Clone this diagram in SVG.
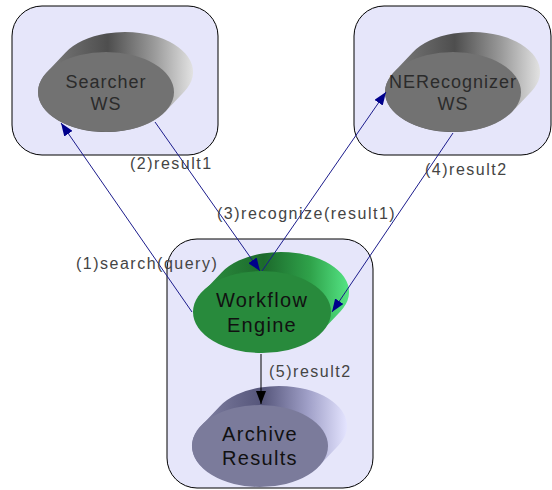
<svg xmlns="http://www.w3.org/2000/svg" xmlns:xlink="http://www.w3.org/1999/xlink" width="552" height="490" viewBox="0 0 552 490">
  <style>
    .box { fill: #e6e6fa; stroke: #000; stroke-width: 1; }
    .lbl { font-family: "Liberation Sans", Arial, sans-serif; font-size: 16px; letter-spacing: 1.5px; fill: #444; }
    .ws { font-family: "Liberation Sans", Arial, sans-serif; font-size: 18px; letter-spacing: 1px; fill: #2b2b2b; text-anchor: middle; }
    .big { font-family: "Liberation Sans", Arial, sans-serif; font-size: 20px; letter-spacing: 1.3px; fill: #111; text-anchor: middle; }
    .msg { fill: none; stroke: #1c1c8c; stroke-width: 1; marker-end: url(#ahBlue); }
    .ret { fill: none; stroke: #000; stroke-width: 1; marker-end: url(#ahBlack); }
  </style>
  <defs>
    <!-- swept outline of an ellipse (rx 68, ry 40) extruded by (19,-20) -->
    <path id="hull" d="M-40.4,-39.5 A68,40 0 0 1 78.4,-0.5 L59.4,19.5 A68,40 0 0 1 -59.4,-19.5 Z"/>
    <linearGradient id="gGrey" x1="0" y1="0" x2="1" y2="0">
      <stop offset="0" stop-color="#808080"/>
      <stop offset="0.45" stop-color="#4e4e4e"/>
      <stop offset="0.75" stop-color="#9a9a9a"/>
      <stop offset="1" stop-color="#e2e2e2"/>
    </linearGradient>
    <linearGradient id="gGreen" x1="0" y1="0" x2="1" y2="0">
      <stop offset="0" stop-color="#2f9442"/>
      <stop offset="0.45" stop-color="#1c6a2c"/>
      <stop offset="0.75" stop-color="#2fa24a"/>
      <stop offset="1" stop-color="#55e585"/>
    </linearGradient>
    <linearGradient id="gLilac" x1="0" y1="0" x2="1" y2="0">
      <stop offset="0" stop-color="#8585a6"/>
      <stop offset="0.45" stop-color="#55557a"/>
      <stop offset="0.75" stop-color="#a0a0c8"/>
      <stop offset="1" stop-color="#e4e4ff"/>
    </linearGradient>
    <marker id="ahBlue" viewBox="0 0 13 10" refX="13" refY="5" markerWidth="13" markerHeight="10" markerUnits="userSpaceOnUse" orient="auto">
      <path d="M0,0 L13,5 L0,10 Z" fill="#00008b"/>
    </marker>
    <marker id="ahBlack" viewBox="0 0 13 10" refX="13" refY="5" markerWidth="13" markerHeight="10" markerUnits="userSpaceOnUse" orient="auto">
      <path d="M0,0 L13,5 L0,10 Z" fill="#000"/>
    </marker>
  </defs>

  <!-- containers -->
  <g id="hostSearcher">
    <rect class="box" x="12" y="6" width="206" height="149" rx="30" ry="30"/>
  </g>
  <g id="hostRecognizer">
    <rect class="box" x="354" y="6" width="197" height="149" rx="30" ry="30"/>
  </g>
  <g id="hostEngine">
    <rect class="box" x="167" y="239" width="206" height="249" rx="30" ry="30"/>
  </g>

  <!-- services -->
  <g id="searcherWS" transform="translate(106,92)">
    <use xlink:href="#hull" fill="url(#gGrey)"/>
    <ellipse cx="0" cy="0" rx="68" ry="40" fill="#727272"/>
    <text class="ws" x="0" y="-4">Searcher</text>
    <text class="ws" x="0" y="18">WS</text>
  </g>
  <g id="neRecognizerWS" transform="translate(453,92)">
    <use xlink:href="#hull" fill="url(#gGrey)"/>
    <ellipse cx="0" cy="0" rx="68" ry="40" fill="#727272"/>
    <text class="ws" x="0" y="-4">NERecognizer</text>
    <text class="ws" x="0" y="18">WS</text>
  </g>
  <g id="workflowEngine" transform="translate(262,312)">
    <use xlink:href="#hull" fill="url(#gGreen)"/>
    <ellipse cx="0" cy="0" rx="69" ry="41" fill="#288a3c"/>
    <text class="big" x="0" y="-5">Workflow</text>
    <text class="big" x="0" y="20">Engine</text>
  </g>
  <g id="archiveResults" transform="translate(260,446)">
    <use xlink:href="#hull" fill="url(#gLilac)"/>
    <ellipse cx="0" cy="0" rx="68" ry="41" fill="#7b7b9b"/>
    <text class="big" x="0" y="-5">Archive</text>
    <text class="big" x="0" y="19">Results</text>
  </g>

  <!-- connectors -->
  <g id="connectors">
    <line class="msg" x1="192" y1="312" x2="61" y2="123"/>
    <line class="msg" x1="155" y1="122" x2="260" y2="271"/>
    <line class="msg" x1="262" y1="271" x2="386" y2="92"/>
    <line class="msg" x1="453" y1="133" x2="332" y2="312"/>
    <line class="ret" x1="261" y1="354" x2="261" y2="404"/>
    <text class="lbl" x="76" y="269">(1)search(query)</text>
    <text class="lbl" x="130" y="169">(2)result1</text>
    <text class="lbl" x="217" y="219">(3)recognize(result1)</text>
    <text class="lbl" x="425" y="175">(4)result2</text>
    <text class="lbl" x="269" y="377">(5)result2</text>
  </g>
</svg>
